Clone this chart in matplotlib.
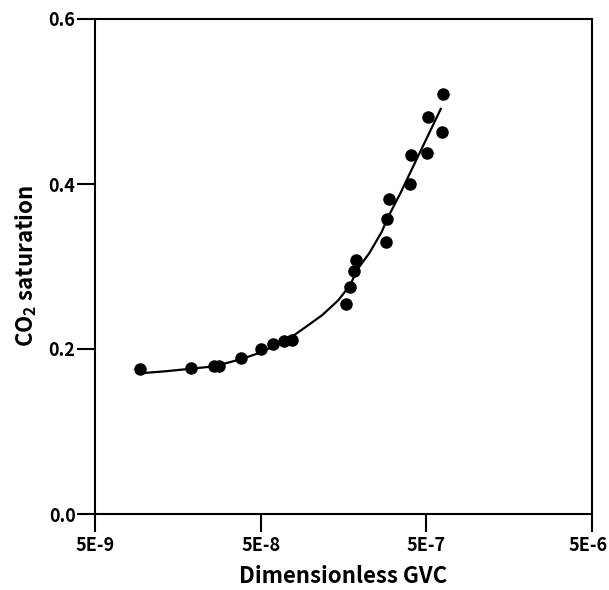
import numpy as np
import matplotlib
matplotlib.use('Agg')
from matplotlib import pyplot as plt
from matplotlib.ticker import FixedLocator, NullLocator
from matplotlib.transforms import ScaledTranslation

plt.rcParams['font.family'] = ['Noto Sans CJK KR', 'DejaVu Sans']
plt.rcParams['font.weight'] = 'bold'
plt.rcParams['mathtext.default'] = 'regular'

# measured points (dimensionless GVC vs CO2 saturation)
gvc = [9.4e-9, 1.9e-8, 2.6e-8, 2.8e-8, 3.8e-8, 5.0e-8, 5.9e-8, 6.9e-8, 7.7e-8,
       1.63e-7, 1.72e-7, 1.82e-7, 1.89e-7, 2.84e-7, 2.91e-7, 2.99e-7,
       4.0e-7, 4.05e-7, 5.07e-7, 5.14e-7, 6.19e-7, 6.28e-7]
sat = [0.176, 0.177, 0.179, 0.179, 0.189, 0.200, 0.206, 0.210, 0.211,
       0.255, 0.275, 0.295, 0.308, 0.330, 0.358, 0.382,
       0.400, 0.435, 0.438, 0.481, 0.463, 0.509]

# trend curve
fit_gvc = [1.0e-8, 1.33e-8, 1.88e-8, 2.62e-8, 3.86e-8, 4.86e-8, 6.09e-8, 7.73e-8,
           9.4e-8, 1.175e-7, 1.47e-7, 1.74e-7, 1.91e-7, 2.26e-7, 2.69e-7, 2.94e-7,
           3.49e-7, 4.25e-7, 5.21e-7, 6.11e-7]
fit_sat = [0.171, 0.173, 0.176, 0.179, 0.188, 0.195, 0.204, 0.215,
           0.227, 0.241, 0.259, 0.278, 0.296, 0.316, 0.342, 0.360,
           0.389, 0.425, 0.462, 0.491]

x_ticks = [5e-9, 5e-8, 5e-7, 5e-6]
x_labels = ['5E-9', '5E-8', '5E-7', '5E-6']
y_ticks = [0.0, 0.2, 0.4, 0.6]
y_labels = ['0.0', '0.2', '0.4', '0.6']

fig = plt.figure(figsize=(6.09, 5.90), dpi=100)
ax = fig.add_axes([95 / 609, 76 / 590, 497 / 609, 495 / 590])

ax.plot(fit_gvc, fit_sat, color='black', lw=1.6, zorder=2)
ax.plot(gvc, sat, 'o', color='black', ms=8, zorder=3)

ax.set_xscale('log')
ax.set_xlim(5e-9, 5e-6)
ax.set_ylim(0, 0.6)
ax.xaxis.set_major_locator(FixedLocator(x_ticks))
ax.xaxis.set_minor_locator(NullLocator())
ax.set_xticklabels(x_labels)
ax.set_yticks(y_ticks)
ax.set_yticklabels(y_labels)

for s in ax.spines.values():
    s.set_linewidth(1.5)
ax.tick_params(direction='out', length=13, width=1.5, labelsize=13, pad=1)
ax.tick_params(axis='x', pad=3)
for lab in ax.get_xticklabels() + ax.get_yticklabels():
    lab.set_fontweight('bold')

# keep the last x label inside the canvas
last = ax.get_xticklabels()[-1]
last.set_transform(last.get_transform() + ScaledTranslation(-0.04, 0, fig.dpi_scale_trans))

ax.set_xlabel('Dimensionless GVC', fontsize=16, fontweight='bold', labelpad=7)
ax.set_ylabel('CO$_2$ saturation', fontsize=16, fontweight='bold', labelpad=7)

fig.savefig('out.png', dpi=100)
